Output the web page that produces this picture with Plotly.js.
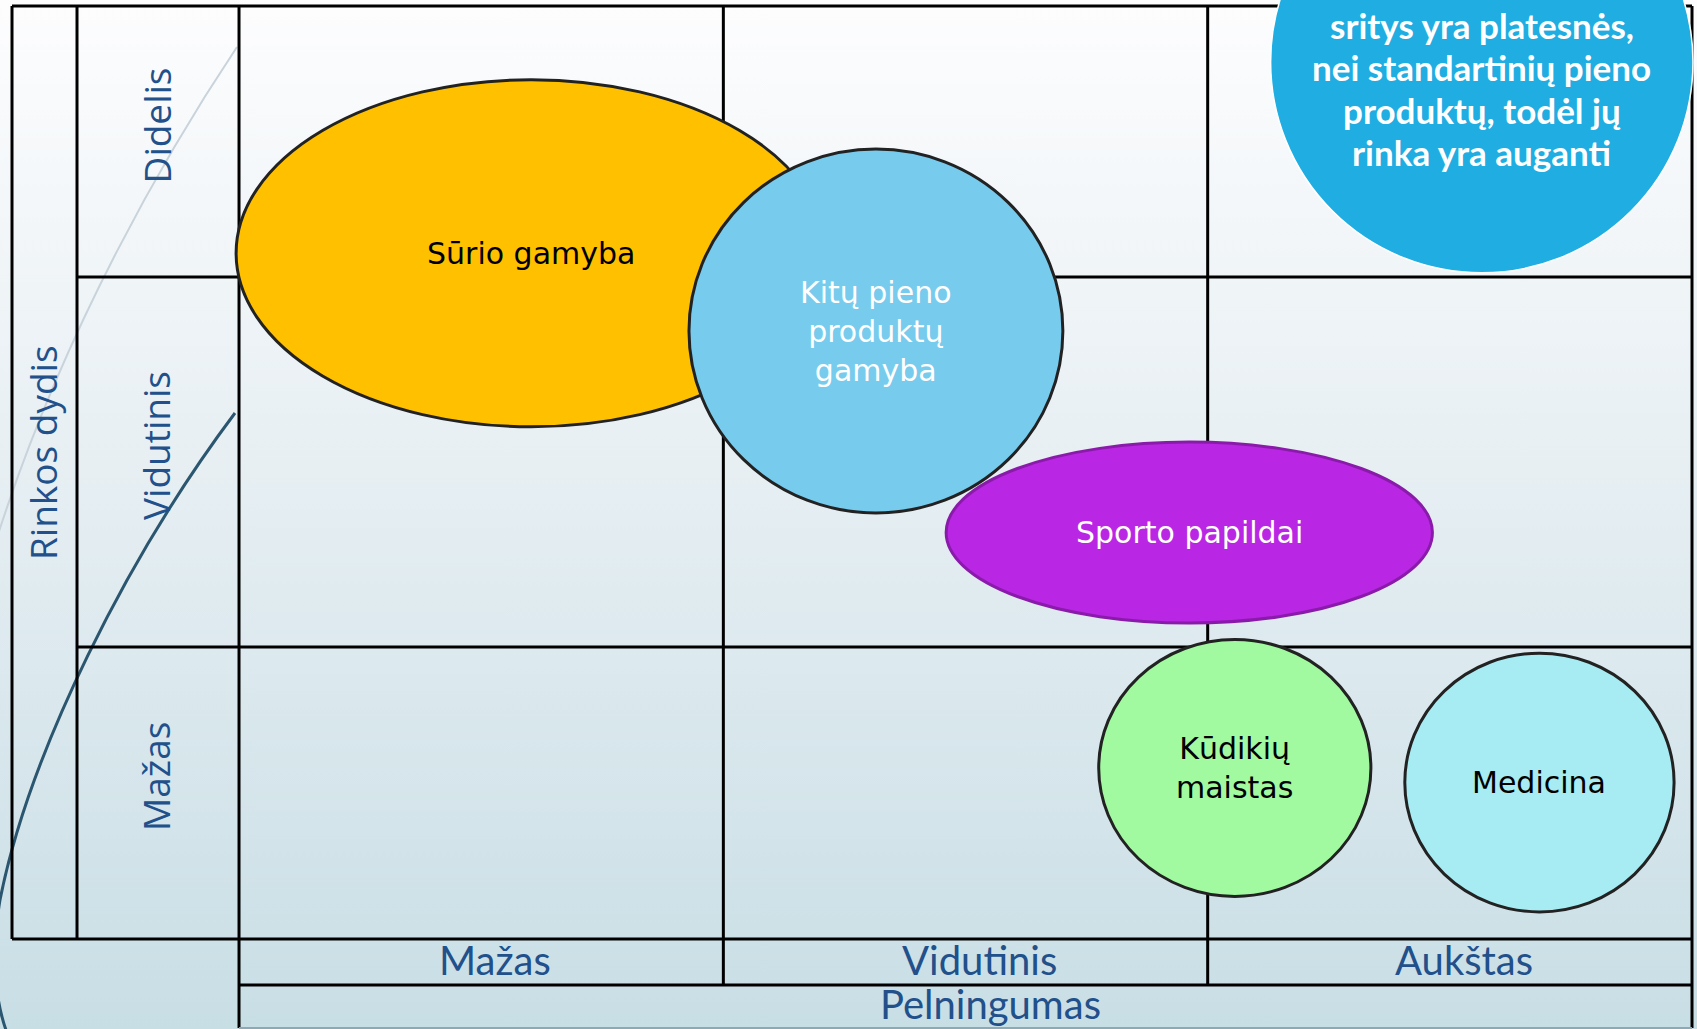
<!DOCTYPE html>
<html>
<head>
<meta charset="utf-8">
<script src="https://cdn.plot.ly/plotly-3.0.1.min.js"></script>
<style>
  html, body { margin: 0; padding: 0; }
  body {
    width: 1697px; height: 1029px; overflow: hidden;
    background: linear-gradient(to bottom, #fdfdfe 0%, #e7eff3 45%, #c8dee5 100%);
  }
  #matrix { width: 1697px; height: 1029px; }
</style>
</head>
<body>
<div id="matrix"></div>
<script>
// Matrix headers
var pelningumasLabels = ["Mažas", "Vidutinis", "Aukštas"];
var rinkosLabels = ["Mažas", "Vidutinis", "Didelis"];
// column / row edges on the axis scale (rows are not the same height)
var colEdges = [0, 1, 2, 3];
var rowEdges = [0, 0.939, 2.129, 3.0];

// Bubbles: centre on the matrix and half width / half height
var sritys = ["Sūrio gamyba", "Kitų pieno<br>produktų<br>gamyba", "Sporto papildai", "Kūdikių<br>maistas", "Medicina"];
var pelningumas = [0.603, 1.315, 1.962, 2.056, 2.685];
var rinkosDydis = [2.205, 1.955, 1.307, 0.550, 0.503];
var plotis = [0.609, 0.386, 0.502, 0.281, 0.278];
var aukstis = [0.558, 0.585, 0.291, 0.413, 0.416];
var spalvos = ["#FFC000", "#77CBED", "#B927E4", "#A1F9A0", "#A7ECF3"];
var kontuurai = ["#222222", "#222222", "#8A1BAA", "#222222", "#222222"];
var tekstoSpalvos = ["#000000", "#ffffff", "#ffffff", "#000000", "#000000"];

// Callout in the top right corner
var pastaba = ["sritys yra platesnės,", "nei standartinių pieno", "produktų, todėl jų", "rinka yra auganti"];
var pastabaX = 2.566, pastabaY = 2.820, pastabaRx = 0.436, pastabaRy = 0.678;

// axis ranges so that the whole slide is one plot area
var xRange = [-0.4935, 3.0103];
var yRange = [-0.2894, 3.0193];
var labelColA = -0.4687, labelColB = -0.3345;
var footRow1 = -0.148, footRow2 = -0.286;

// helpers for the decorative swooshes (slide pixels -> axis units)
function X(px) { return xRange[0] + px * (xRange[1] - xRange[0]) / 1697; }
function Y(py) { return yRange[1] - py * (yRange[1] - yRange[0]) / 1029; }
function pt(px, py) { return X(px).toFixed(4) + ',' + Y(py).toFixed(4); }

var shapes = [];
function line(x0, y0, x1, y1, col, w) {
    shapes.push({type: "line", xref: "x", yref: "y", x0: x0, y0: y0, x1: x1, y1: y1,
        layer: "below", line: {color: col || "#000", width: w || 3}});
}

// theme swooshes
shapes.push({type: "path", xref: "x", yref: "y", layer: "below",
    path: "M " + pt(237, 47) + " C " + pt(175, 140) + " " + pt(60, 330) + " " + pt(-10, 560),
    line: {color: "#c8d3db", width: 2}});
shapes.push({type: "path", xref: "x", yref: "y", layer: "below",
    path: "M " + pt(235, 413) + " C " + pt(127, 557) + " " + pt(29, 753) + " " + pt(0, 900) +
          " C " + pt(-6, 935) + " " + pt(-10, 995) + " " + pt(10, 1040),
    line: {color: "#2b5670", width: 3}});

// outer frame and label columns
line(labelColA, rowEdges[3], colEdges[3], rowEdges[3]);
line(labelColA, 0, colEdges[3], 0);
line(labelColA, 0, labelColA, rowEdges[3]);
line(labelColB, 0, labelColB, rowEdges[3]);
line(0, footRow2, 0, rowEdges[3]);
line(1, footRow1, 1, rowEdges[3]);
line(2, footRow1, 2, rowEdges[3]);
line(3, footRow2, 3, rowEdges[3]);
line(labelColB, rowEdges[1], 3, rowEdges[1]);
line(labelColB, rowEdges[2], 3, rowEdges[2]);
line(0, footRow1, 3, footRow1);
line(0, footRow2, 3, footRow2, "#8ea9b3", 2);

// bubbles
for (var i = 0; i < sritys.length; i++) {
    shapes.push({type: "circle", xref: "x", yref: "y", layer: "below",
        x0: pelningumas[i] - plotis[i], x1: pelningumas[i] + plotis[i],
        y0: rinkosDydis[i] - aukstis[i], y1: rinkosDydis[i] + aukstis[i],
        fillcolor: spalvos[i], line: {color: kontuurai[i], width: 3}});
}
// callout circle
shapes.push({type: "circle", xref: "x", yref: "y", layer: "below",
    x0: pastabaX - pastabaRx, x1: pastabaX + pastabaRx,
    y0: pastabaY - pastabaRy, y1: pastabaY + pastabaRy,
    fillcolor: "#1FADE2", line: {color: "#ffffff", width: 1.5}});

// invisible anchor points for the bubbles
var trace = {
    x: pelningumas,
    y: rinkosDydis,
    mode: "markers",
    type: "scatter",
    marker: {size: 1, opacity: 0},
    hoverinfo: "skip",
    showlegend: false
};

var blue = "#21508a";
var annotations = [];
// bubble labels
for (var b = 0; b < sritys.length; b++) {
    annotations.push({x: pelningumas[b], y: rinkosDydis[b], yshift: 0, text: sritys[b],
        showarrow: false, font: {family: "DejaVu Sans", size: 30, color: tekstoSpalvos[b]}});
}
// Pelningumas headers
for (var c = 0; c < pelningumasLabels.length; c++) {
    annotations.push({x: colEdges[c] + 0.5, y: (0 + footRow1) / 2, xshift: 14, yshift: 2, text: pelningumasLabels[c],
        showarrow: false, font: {family: "Lato", size: 40, color: blue}});
}
annotations.push({x: 1.5, y: (footRow1 + footRow2) / 2, xshift: 25, yshift: 2, text: "Pelningumas",
    showarrow: false, font: {family: "Lato", size: 40, color: blue}});
// Rinkos dydis headers
for (var r = 0; r < rinkosLabels.length; r++) {
    annotations.push({x: (labelColB + 0) / 2, y: (rowEdges[r] + rowEdges[r + 1]) / 2, xshift: -2, yshift: 16,
        text: rinkosLabels[r], textangle: -90, showarrow: false,
        font: {family: "Open Sans", size: 37, color: blue}});
}
annotations.push({x: (labelColA + labelColB) / 2, y: 1.5, xshift: -2, yshift: 20, text: "Rinkos dydis", textangle: -90,
    showarrow: false, font: {family: "Open Sans", size: 37, color: blue}});
// callout text, one line each
for (var k = 0; k < pastaba.length; k++) {
    annotations.push({x: pastabaX, y: 3.0193, yanchor: "middle", yshift: -(25 + 42.3 * k),
        text: "<b>" + pastaba[k] + "</b>", showarrow: false,
        font: {family: "Lato", size: 35, color: "#ffffff"}});
}

var layout = {
    width: 1697,
    height: 1029,
    margin: {l: 0, r: 0, t: 0, b: 0},
    paper_bgcolor: "rgba(0,0,0,0)",
    plot_bgcolor: "rgba(0,0,0,0)",
    xaxis: {range: xRange, visible: false, fixedrange: true},
    yaxis: {range: yRange, visible: false, fixedrange: true},
    shapes: shapes,
    annotations: annotations,
    showlegend: false
};

Plotly.newPlot("matrix", [trace], layout, {displayModeBar: false, staticPlot: true});
</script>
</body>
</html>
